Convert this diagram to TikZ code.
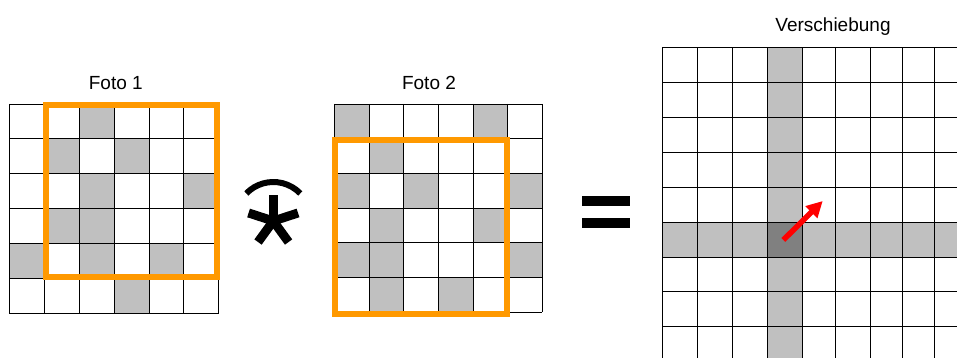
\documentclass[tikz,border=0pt]{standalone}
\usepackage{fontspec}
\setmainfont{Liberation Sans}
\usetikzlibrary{arrows.meta}
\definecolor{cellgray}{HTML}{C0C0C0}
\definecolor{darkcell}{HTML}{808080}
\definecolor{boxorange}{HTML}{FF9900}
\definecolor{arrowred}{HTML}{FF0000}
\begin{document}
\begin{tikzpicture}[x=1pt,y=-1pt,
  gridline/.style={black,line width=0.8pt},
  framebox/.style={draw=boxorange,line width=6pt},
  title/.style={font=\fontsize{19}{22}\selectfont,anchor=base,inner sep=0pt},
  opsym/.style={black,line width=9pt,line cap=butt}]
\useasboundingbox (0,0) rectangle (957,358);
\fill[white] (0,0) rectangle (957,358);
% ---------- Foto 1 ----------
\def\xa{9.3}\def\ya{104}\def\sa{34.9}
\foreach \c/\r in {2/0,1/1,3/1,2/2,5/2,1/3,2/3,0/4,2/4,4/4,3/5}
  \fill[cellgray] (\xa+\c*\sa,\ya+\r*\sa) rectangle ++(\sa,\sa);
\foreach \i in {0,...,6}{
  \draw[gridline] (\xa+\i*\sa,\ya) -- (\xa+\i*\sa,\ya+6*\sa);
  \draw[gridline] (\xa,\ya+\i*\sa) -- (\xa+6*\sa,\ya+\i*\sa);}
\draw[framebox] (45.5,105.3) rectangle (216.7,276.7);
\node[title] (t1) at (115.8,89.3) {Foto 1};
% ---------- Foto 2 ----------
\def\xb{334.3}\def\yb{104}\def\sb{34.65}
\foreach \c/\r in {0/0,4/0,1/1,0/2,2/2,5/2,1/3,4/3,0/4,1/4,5/4,1/5,3/5}
  \fill[cellgray] (\xb+\c*\sb,\yb+\r*\sb) rectangle ++(\sb,\sb);
\foreach \i in {0,...,6}{
  \draw[gridline] (\xb+\i*\sb,\yb) -- (\xb+\i*\sb,\yb+6*\sb);
  \draw[gridline] (\xb,\yb+\i*\sb) -- (\xb+6*\sb,\yb+\i*\sb);}
\draw[framebox] (334.5,140.5) rectangle (507,313.7);
\node[title] (t2) at (429,89.3) {Foto 2};
% ---------- correlation symbol ----------
\coordinate (ac) at (273.3,219.5);
\draw[black,line width=6pt] (ac) ++(-136:37.5) arc[start angle=-136,end angle=-44,radius=37.5];
\coordinate (sc) at (273.3,221);
\foreach \a in {90,162,18,234,306}
  \draw[opsym] (sc) -- ++({26*cos(\a)},{-26*sin(\a)});
% ---------- equals ----------
\fill[black] (582.3,195.7) rectangle (630,205.7);
\fill[black] (582.3,217.7) rectangle (630,227.7);
% ---------- Verschiebung ----------
\fill[cellgray] (767.3,47.7) rectangle (802.3,358);
\fill[cellgray] (662.3,222.7) rectangle (957,257.3);
\fill[darkcell] (767.3,222.7) rectangle (802.3,257.3);
\foreach \x in {662.3,697.3,732.3,767.3,802.3,835.7,870.7,902.5,934.5}
  \draw[gridline] (\x,47.7) -- (\x,358);
\foreach \y in {47.7,82.7,117.7,152.7,187.7,222.7,257.3,291.5,326.3}
  \draw[gridline] (662.3,\y) -- (957,\y);
\node[title] (t3) at (833,31.7) {Verschiebung};
\coordinate (as) at (783.3,240);
\coordinate (ae) at (822.7,201);
\draw[arrowred,line width=5.5pt,-{Triangle[length=16pt,width=16pt]}] (as) -- (ae);
\end{tikzpicture}
\end{document}
